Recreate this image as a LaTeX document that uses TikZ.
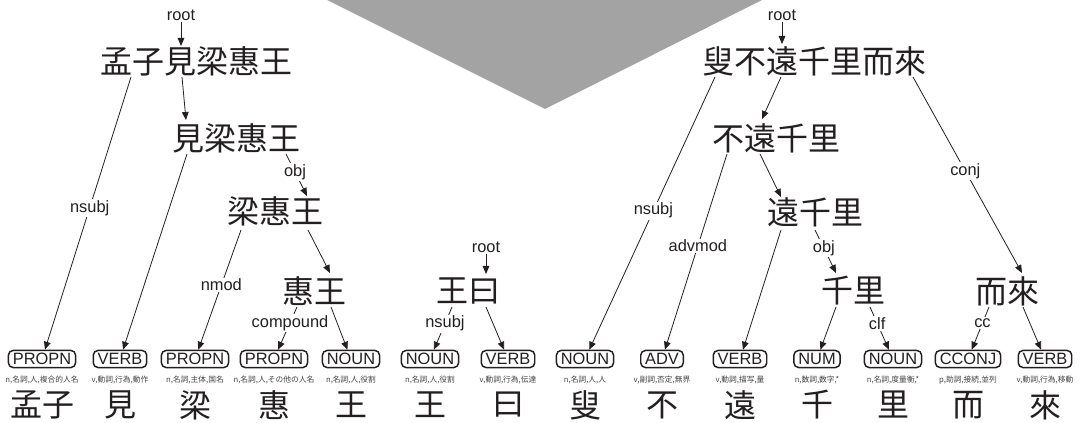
\documentclass[tikz,border=0pt]{standalone}
\usepackage{fontspec}
\setmainfont{Liberation Sans}
\newfontfamily\cjk{Noto Sans CJK JP}
\usetikzlibrary{arrows.meta}
\definecolor{ink}{RGB}{35,31,32}
\definecolor{tri}{RGB}{163,163,163}
\newcommand\mytok[5]{%
  \node[posbox] (b#1) at (#2,359) {#3};
  \node[feat] (f#1) at (#2,380) {#4};
  \node[word] (w#1) at (#2,405) {#5};
}
\begin{document}
\begin{tikzpicture}[x=0.75pt,y=-0.75pt,
  phrase/.style={font=\cjk\fontsize{24}{24}\selectfont, inner sep=0pt, text=ink},
  word/.style={font=\cjk\fontsize{24}{24}\selectfont, inner sep=0pt, text=ink},
  posbox/.style={draw=ink, line width=1.1pt, rounded corners=3.5pt, font=\fontsize{12.3}{12}\selectfont, inner xsep=3.3pt, inner ysep=2pt, text height=8.8pt, text depth=0pt, text=ink},
  feat/.style={font=\cjk\fontsize{5.8}{6}\selectfont, inner sep=0pt, text=ink!85},
  lbl/.style={font=\fontsize{12.3}{12}\selectfont, fill=white, inner sep=1pt, text=ink},
  rootlbl/.style={font=\fontsize{12.3}{12}\selectfont, inner sep=1pt, text=ink},
  edge/.style={draw=ink, line width=0.6pt, -{Triangle[length=6pt,width=5pt]}},
]
\useasboundingbox (0,0) rectangle (1088,423);
\fill[tri] (327,0) -- (762,0) -- (545,109) -- cycle;

% tokens
\mytok{1}{42}{PROPN}{n,名詞,人,複合的人名}{孟子}
\mytok{2}{120}{VERB}{v,動詞,行為,動作}{見}
\mytok{3}{195}{PROPN}{n,名詞,主体,国名}{梁}
\mytok{4}{274}{PROPN}{n,名詞,人,その他の人名}{惠}
\mytok{5}{351}{NOUN}{n,名詞,人,役割}{王}
\mytok{6}{430}{NOUN}{n,名詞,人,役割}{王}
\mytok{7}{508}{VERB}{v,動詞,行為,伝達}{曰}
\mytok{8}{585}{NOUN}{n,名詞,人,人}{叟}
\mytok{9}{662}{ADV}{v,副詞,否定,無界}{不}
\mytok{10}{740}{VERB}{v,動詞,描写,量}{遠}
\mytok{11}{817}{NUM}{n,数詞,数字,*}{千}
\mytok{12}{893}{NOUN}{n,名詞,度量衡,*}{里}
\mytok{13}{968}{CCONJ}{p,助詞,接続,並列}{而}
\mytok{14}{1045}{VERB}{v,動詞,行為,移動}{來}

% phrases
\node[phrase] (P1) at (196,61) {孟子見梁惠王};
\node[phrase] (P2) at (236,138) {見梁惠王};
\node[phrase] (P3) at (275,211) {梁惠王};
\node[phrase] (P4) at (314,291) {惠王};
\node[phrase] (P5) at (468,291) {王曰};
\node[phrase] (Q1) at (814,61) {叟不遠千里而來};
\node[phrase] (Q2) at (776,138) {不遠千里};
\node[phrase] (Q3) at (815,212) {遠千里};
\node[phrase] (Q4) at (853,291) {千里};
\node[phrase] (Q5) at (1007,291) {而來};

% root labels
\node[rootlbl] (r1) at (181,15) {root};
\node[rootlbl] (r2) at (782,15) {root};
\node[rootlbl] (r3) at (486,247) {root};

% anchor points on phrases
\coordinate (P1in) at (181,46);
\coordinate (P1a) at (131,77);
\coordinate (P1b) at (182,77);
\coordinate (P2in) at (186,120);
\coordinate (P2a) at (187,154);
\coordinate (P2b) at (286,154);
\coordinate (P3in) at (307,196);
\coordinate (P3a) at (241,230);
\coordinate (P3b) at (308,230);
\coordinate (P4in) at (330,273);
\coordinate (P4a) at (297,307);
\coordinate (P4b) at (331,307);
\coordinate (P5in) at (486,274);
\coordinate (P5a) at (452,307);
\coordinate (P5b) at (486,307);
\coordinate (Q1in) at (782,44);
\coordinate (Q1a) at (715,77);
\coordinate (Q1b) at (781,77);
\coordinate (Q1c) at (913,77);
\coordinate (Q2in) at (762,119);
\coordinate (Q2a) at (727,154);
\coordinate (Q2b) at (760,154);
\coordinate (Q3in) at (781,197);
\coordinate (Q3a) at (781,230);
\coordinate (Q3b) at (815,230);
\coordinate (Q4in) at (836,273);
\coordinate (Q4a) at (836,307);
\coordinate (Q4b) at (870,307);
\coordinate (Q5in) at (1022,273);
\coordinate (Q5a) at (989,307);
\coordinate (Q5b) at (1023,307);

% edges left
\draw[edge] (r1) -- (P1in);
\draw[edge] (P1a) -- node[lbl, pos=0.48] {nsubj} (b1);
\draw[edge] (P1b) -- (P2in);
\draw[edge] (P2a) -- (b2);
\draw[edge] (P2b) -- node[lbl, pos=0.43] {obj} (P3in);
\draw[edge] (P3a) -- node[lbl, pos=0.46] {nmod} (b3);
\draw[edge] (P3b) -- (P4in);
\draw[edge] (P4a) -- node[lbl, pos=0.37] {compound} (b4);
\draw[edge] (P4b) -- (b5);
\draw[edge] (r3) -- (P5in);
\draw[edge] (P5a) -- node[lbl, pos=0.39] {nsubj} (b6);
\draw[edge] (P5b) -- (b7);

% edges right
\draw[edge] (r2) -- (Q1in);
\draw[edge] (Q1a) -- node[lbl, pos=0.49] {nsubj} (b8);
\draw[edge] (Q1b) -- (Q2in);
\draw[edge] (Q1c) -- node[lbl, pos=0.48] {conj} (Q5in);
\draw[edge] (Q2a) -- node[lbl, pos=0.47] {advmod} (b9);
\draw[edge] (Q2b) -- (Q3in);
\draw[edge] (Q3a) -- (b10);
\draw[edge] (Q3b) -- node[lbl, pos=0.42] {obj} (Q4in);
\draw[edge] (Q4a) -- (b11);
\draw[edge] (Q4b) -- node[lbl, pos=0.38] {clf} (b12);
\draw[edge] (Q5a) -- node[lbl, pos=0.38] {cc} (b13);
\draw[edge] (Q5b) -- (b14);
\end{tikzpicture}
\end{document}
